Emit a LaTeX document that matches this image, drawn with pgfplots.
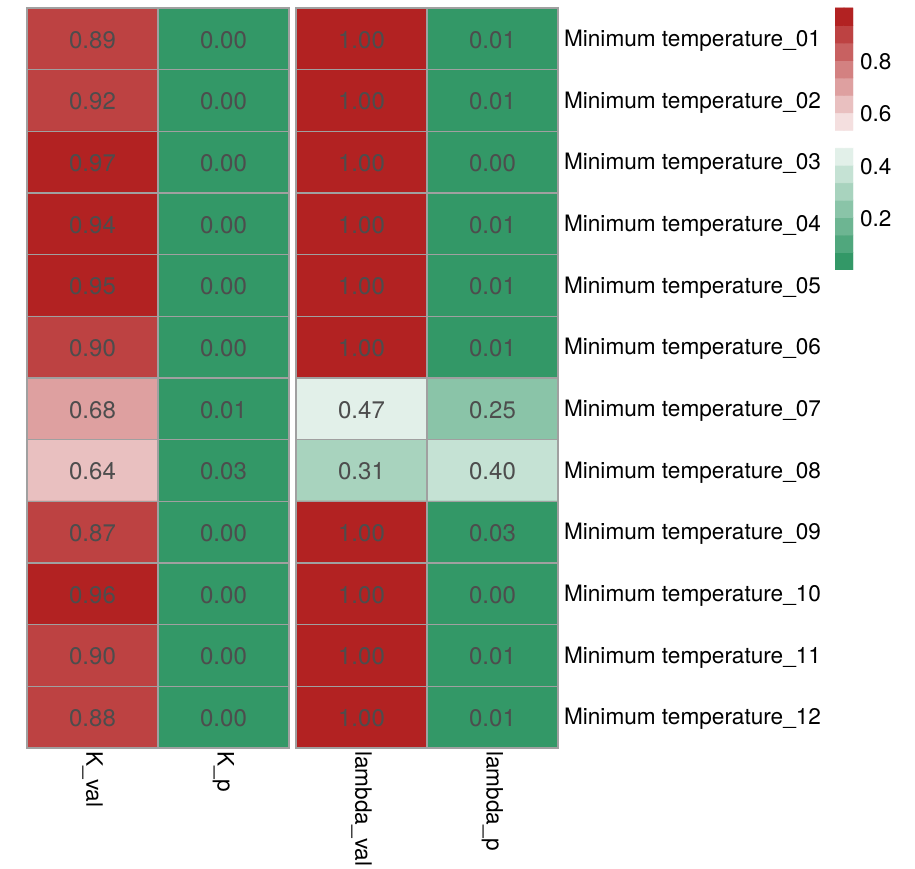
\documentclass[border=0pt]{standalone}
\usepackage{fontspec}
\setmainfont{TeX Gyre Heros}
\usepackage{pgfplots}
\usepackage{pgfplotstable}
\pgfplotsset{compat=1.18}

\pgfplotsset{
  colormap={hm}{rgb255=(51,152,103) rgb255=(80,167,125) rgb255=(109,181,146) rgb255=(138,196,168)
    rgb255=(168,211,190) rgb255=(197,226,212) rgb255=(226,240,233) rgb255=(255,255,255)
    rgb255=(244,223,223) rgb255=(233,192,192) rgb255=(222,160,160) rgb255=(211,129,129)
    rgb255=(200,97,97) rgb255=(189,66,66) rgb255=(178,34,34)},
}

\pgfplotstableread{
x y v
0 1 0.89
1 1 0.00
0 2 0.92
1 2 0.00
0 3 0.97
1 3 0.00
0 4 0.94
1 4 0.00
0 5 0.95
1 5 0.00
0 6 0.90
1 6 0.00
0 7 0.68
1 7 0.01
0 8 0.64
1 8 0.03
0 9 0.87
1 9 0.00
0 10 0.96
1 10 0.00
0 11 0.90
1 11 0.00
0 12 0.88
1 12 0.00
}\leftdata

\pgfplotstableread{
x y v
0 1 1.00
1 1 0.01
0 2 1.00
1 2 0.01
0 3 1.00
1 3 0.00
0 4 1.00
1 4 0.01
0 5 1.00
1 5 0.01
0 6 1.00
1 6 0.01
0 7 0.466
1 7 0.25
0 8 0.31
1 8 0.398
0 9 1.00
1 9 0.03
0 10 1.00
1 10 0.00
0 11 1.00
1 11 0.01
0 12 1.00
1 12 0.01
}\rightdata

% colour key: one cell per bin, at the bin centres
\pgfplotstableread{
x y v
0 0.0333 0.0333
1 0.0333 0.0333
0 0.1 0.1
1 0.1 0.1
0 0.1667 0.1667
1 0.1667 0.1667
0 0.2333 0.2333
1 0.2333 0.2333
0 0.3 0.3
1 0.3 0.3
0 0.3667 0.3667
1 0.3667 0.3667
0 0.4333 0.4333
1 0.4333 0.4333
0 0.5 0.5
1 0.5 0.5
0 0.5667 0.5667
1 0.5667 0.5667
0 0.6333 0.6333
1 0.6333 0.6333
0 0.7 0.7
1 0.7 0.7
0 0.7667 0.7667
1 0.7667 0.7667
0 0.8333 0.8333
1 0.8333 0.8333
0 0.9 0.9
1 0.9 0.9
0 0.9667 0.9667
1 0.9667 0.9667
}\keydata

\definecolor{gridc}{RGB}{160,160,160}
\definecolor{numc}{RGB}{77,77,77}

\pgfplotsset{
  hmaxis/.style={
    scale only axis, width=131pt, height=370pt,
    xmin=-0.5, xmax=1.5, ymin=0.5, ymax=12.5, y dir=reverse,
    colormap name=hm, colormap access=piecewise constant,
    point meta min=0, point meta max=1,
    /pgf/number format/assume math mode=true,
    major tick length=0pt, minor tick length=0pt,
    xtick={0,1}, ytick={1,...,12},
    minor xtick={0.5}, minor ytick={1.5,2.5,...,11.5},
    xminorgrids, yminorgrids,
    minor grid style={draw=gridc, line width=0.75pt},
    axis line style={draw=gridc, line width=0.75pt},
    axis on top,
    xticklabel style={rotate=-90, anchor=west, inner sep=1.5pt, font=\fontsize{11.3}{13}\selectfont},
    yticklabel style={font=\fontsize{11.3}{13}\selectfont},
    every node near coord/.append style={font=\fontsize{12}{14}\selectfont, text=numc, anchor=center, yshift=-0.5pt},
  }
}

\begin{document}
\begin{tikzpicture}
\path[use as bounding box] (0,0) rectangle (457.5pt,434pt);
\begin{axis}[hmaxis, at={(13.5pt,430pt)}, anchor=north west,
  xticklabels={K\_val,K\_p}, yticklabels=\empty]
  \addplot[matrix plot*, mesh/cols=2, point meta=explicit] table[meta=v] {\leftdata};
  \addplot[draw=none, mark=none, point meta=explicit,
    nodes near coords={\pgfmathprintnumber[fixed,zerofill,precision=2]{\pgfplotspointmeta}}] table[meta=v] {\leftdata};
\end{axis}
\begin{axis}[hmaxis, at={(148pt,430pt)}, anchor=north west,
  xticklabels={lambda\_val,lambda\_p},
  yticklabel pos=right,
  yticklabels={Minimum temperature\_01,Minimum temperature\_02,Minimum temperature\_03,Minimum temperature\_04,Minimum temperature\_05,Minimum temperature\_06,Minimum temperature\_07,Minimum temperature\_08,Minimum temperature\_09,Minimum temperature\_10,Minimum temperature\_11,Minimum temperature\_12},
  yticklabel style={anchor=west, yshift=-1pt, xshift=-0.5pt}]
  \addplot[matrix plot*, mesh/cols=2, point meta=explicit] table[meta=v] {\rightdata};
  \addplot[draw=none, mark=none, point meta=explicit,
    nodes near coords={\pgfmathprintnumber[fixed,zerofill,precision=2]{\pgfplotspointmeta}}] table[meta=v] {\rightdata};
\end{axis}
\begin{axis}[at={(417.5pt,430pt)}, anchor=north west,
  scale only axis, width=9pt, height=131pt,
  xmin=-0.5, xmax=1.5, ymin=0, ymax=1,
  colormap name=hm, colormap access=piecewise constant,
  point meta min=0, point meta max=1,
  axis line style={draw=none}, major tick length=0pt,
  xtick=\empty, ytick={0.2,0.4,0.6,0.8}, yticklabels={0.2,0.4,0.6,0.8},
  yticklabel pos=right,
  yticklabel style={font=\fontsize{11.3}{13}\selectfont, anchor=west, yshift=-0.5pt}]
  \addplot[matrix plot*, mesh/cols=2, point meta=explicit] table[meta=v] {\keydata};
\end{axis}
\end{tikzpicture}
\end{document}
